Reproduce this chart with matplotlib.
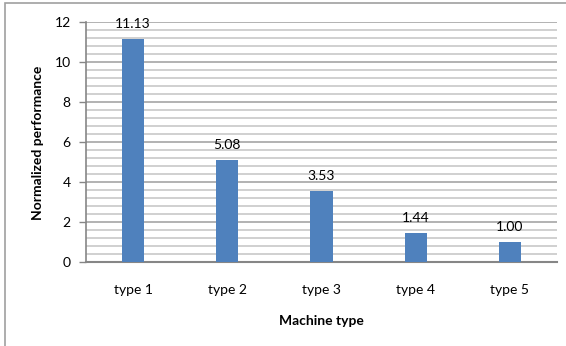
import matplotlib
matplotlib.use("Agg")
import matplotlib.pyplot as plt
from matplotlib.patches import Rectangle
import numpy as np

categories = ["type 1", "type 2", "type 3", "type 4", "type 5"]
values = [11.13, 5.08, 3.53, 1.44, 1.00]
value_labels = ["11.13", "5.08", "3.53", "1.44", "1.00"]
yticks = [0, 2, 4, 6, 8, 10, 12]

plt.rcParams['font.family'] = ['Lato', 'DejaVu Sans']

W, H = 566, 346
fig = plt.figure(figsize=(W/100, H/100), dpi=100)
ax = fig.add_axes([86/W, 1-262/H, (557-86)/W, (262-22)/H])

x = np.arange(len(categories))
ax.bar(x, values, width=0.235, color="#4F81BD", zorder=3)
ax.set_xlim(-0.5, len(categories)-0.5)
ax.set_ylim(0, 12)

# gridlines
for v in np.arange(0.4, 12.01, 0.4):
    if abs(v - round(v)) < 1e-6 and round(v) % 2 == 0:
        continue
    ax.axhline(v, color="#c8c8c8", lw=1.2, zorder=1)
for v in yticks[1:]:
    ax.axhline(v, color="#a6a6a6", lw=1.2, zorder=1)

ax.set_yticks(yticks)
ax.set_yticklabels([str(t) for t in yticks], fontsize=10)
ax.set_xticks(x)
ax.set_xticklabels(categories, fontsize=10)
ax.tick_params(axis='x', length=0, pad=16)
ax.tick_params(axis='y', length=5, color="#868686", pad=6, width=1)
for s in ["top", "right"]:
    ax.spines[s].set_visible(False)
ax.spines["left"].set_color("#868686")
ax.spines["bottom"].set_color("#868686")
ax.spines["left"].set_linewidth(1.2)
ax.spines["bottom"].set_linewidth(1.5)

for xi, v, lab in zip(x, values, value_labels):
    ax.annotate(lab, (xi, v), xytext=(0, 9), textcoords="offset pixels",
                ha="center", va="bottom", fontsize=10)

fig.text(321/W, 1-321/H, "Machine type", ha="center", va="center",
         fontsize=10, fontweight="bold")
fig.text(38/W, 1-143/H, "Normalized performance", ha="center", va="center",
         rotation=90, fontsize=10, fontweight="bold")

# chart border (clipped at right and bottom)
fig.patches.append(Rectangle((5/W, -0.1), 1.2, 1-3/H+0.1, transform=fig.transFigure,
                             fill=False, edgecolor="#a0a0a0", lw=1.2))

fig.savefig("out.png", dpi=100)
